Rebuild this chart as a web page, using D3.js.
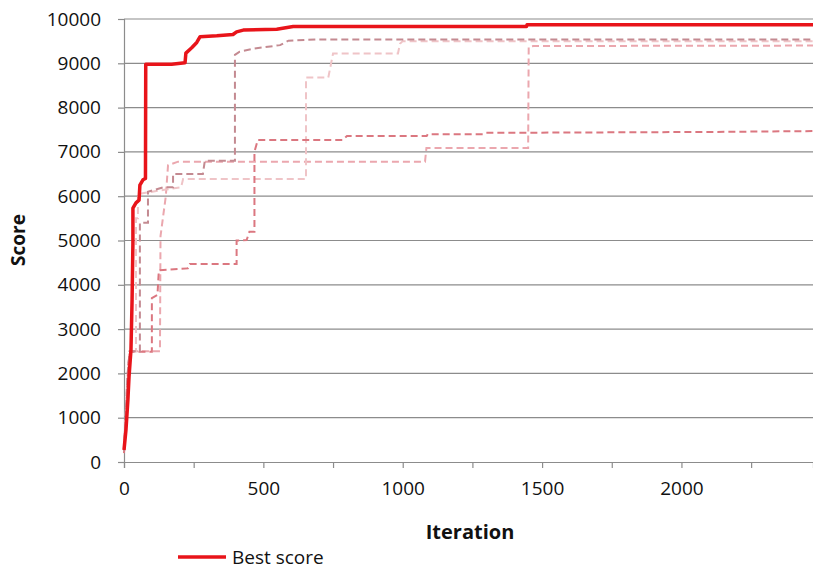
<!DOCTYPE html>
<html><head><meta charset="utf-8">
<script src="https://cdn.jsdelivr.net/npm/d3@7"></script>
<style>body{margin:0;background:#fff}svg{display:block}text{font-family:"Open Sans",sans-serif}</style>
</head><body><svg id="c" width="813" height="569"></svg>
<script>
// Data: [iteration, score] change points (step corners)
const bestScore = [[0,270],[7,720],[14,1400],[18,1920],[25,2530],[29,3660],[32,4940],[32,5730],[43,5850],[54,5910],[57,6250],[68,6370],[77,6400],[78,8980],[171,8980],[219,9010],[222,9230],[243,9350],[261,9470],[273,9600],[333,9620],[391,9650],[404,9710],[428,9750],[548,9770],[607,9830],[1444,9830],[1446,9870],[2472,9870]];
const runA = [[0,250],[6,1000],[12,1900],[20,2500],[57,2500],[57,5400],[86,5400],[86,6100],[140,6200],[176,6200],[176,6500],[283,6500],[290,6800],[398,6800],[398,9190],[415,9260],[464,9330],[560,9410],[590,9510],[700,9540],[2472,9540]];
const runB = [[0,300],[8,1300],[15,2000],[25,2500],[43,2500],[43,5500],[50,5500],[50,6050],[150,6150],[205,6200],[212,6390],[653,6390],[653,8680],[733,8680],[750,9220],[983,9220],[990,9440],[1000,9500],[2472,9500]];
const runC = [[0,200],[8,1200],[15,2200],[22,2490],[100,2490],[100,3700],[120,3770],[125,4330],[229,4370],[236,4470],[404,4470],[404,5000],[440,5010],[450,5200],[468,5200],[468,7000],[480,7270],[785,7270],[800,7360],[1086,7360],[1090,7400],[1290,7400],[1300,7430],[2100,7450],[2472,7470]];
const runD = [[0,300],[10,1600],[20,2500],[129,2500],[131,5100],[150,6000],[158,6700],[194,6780],[1080,6780],[1085,7090],[1450,7090],[1452,9370],[1470,9390],[2472,9400]];
const xTicks = [0,250,500,750,1000,1250,1500,1750,2000,2250];
const xLabels = [0,500,1000,1500,2000];
const yTicks = [0,1000,2000,3000,4000,5000,6000,7000,8000,9000,10000];
const legendLabel = "Best score";

const svg = d3.select("#c");
const x = d3.scaleLinear().domain([0,2472]).range([124,813]);
const y = d3.scaleLinear().domain([0,10000]).range([462,19]);

// gridlines
svg.append("g").selectAll("line").data(yTicks.filter(d=>d>0)).join("line")
  .attr("x1",124).attr("x2",813).attr("y1",d=>y(d)).attr("y2",d=>y(d))
  .attr("stroke","#8c8c8c").attr("stroke-width",1.2);

// axes
const yAxis = d3.axisLeft(y).tickValues(yTicks).tickSize(6).tickFormat(d3.format("d")).tickPadding(17);
const gy = svg.append("g").attr("transform","translate(124,0)").call(yAxis);
gy.select(".domain").attr("stroke","#8c8c8c").attr("stroke-width",1.2);
gy.selectAll(".tick line").attr("stroke","#8c8c8c").attr("stroke-width",1.2);
gy.selectAll("text").attr("font-size",19).attr("fill","#111").attr("font-family","Open Sans");

const xAxis = d3.axisBottom(x).tickValues(xTicks).tickSize(6).tickPadding(14)
  .tickFormat(d=>xLabels.includes(d)?d:"");
const gx = svg.append("g").attr("transform","translate(0,462)").call(xAxis);
gx.select(".domain").attr("stroke","#8c8c8c").attr("stroke-width",1.2);
gx.selectAll(".tick line").attr("stroke","#8c8c8c").attr("stroke-width",1.2);
gx.selectAll("text").attr("font-size",19).attr("fill","#111").attr("font-family","Open Sans");

// lines
const line = d3.line().x(d=>x(d[0])).y(d=>y(d[1]));
const dashed = [
  {data:runD,color:"#eba7ae"},
  {data:runB,color:"#efc4c7"},
  {data:runC,color:"#db7780"},
  {data:runA,color:"#c48a91"}
];
svg.append("g").selectAll("path").data(dashed).join("path")
  .attr("d",d=>line(d.data)).attr("fill","none").attr("stroke",d=>d.color)
  .attr("stroke-width",2).attr("stroke-dasharray","7,4");
svg.append("path").attr("d",line(bestScore)).attr("fill","none")
  .attr("stroke","#e8141a").attr("stroke-width",3.5).attr("stroke-linejoin","round");

// titles
svg.append("text").attr("transform","translate(25,240) rotate(-90)").attr("text-anchor","middle")
  .attr("font-size",19).attr("font-weight","bold").attr("fill","#111").text("Score");
svg.append("text").attr("x",470).attr("y",539).attr("text-anchor","middle")
  .attr("font-size",20).attr("font-weight","bold").attr("fill","#111").text("Iteration");

// legend
svg.append("line").attr("x1",178).attr("x2",226).attr("y1",557).attr("y2",557)
  .attr("stroke","#e8141a").attr("stroke-width",3.5);
svg.append("text").attr("x",232).attr("y",564).attr("font-size",19).attr("fill","#111").text(legendLabel);
</script></body></html>
